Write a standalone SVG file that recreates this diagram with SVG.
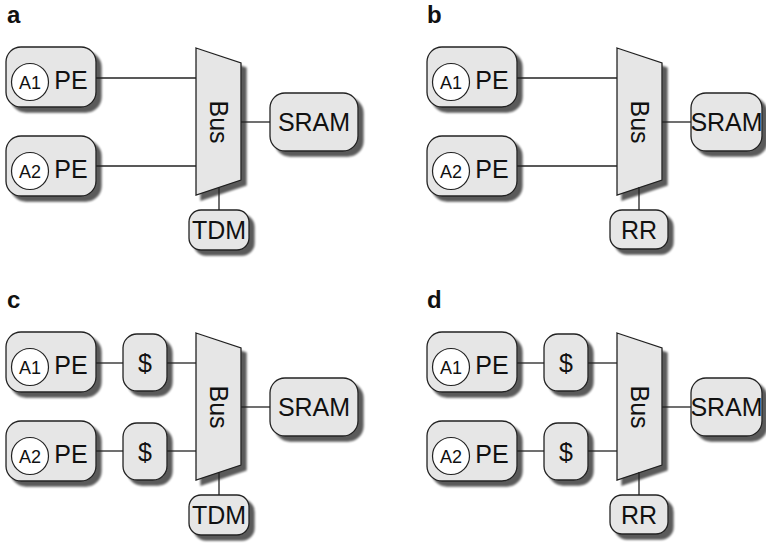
<svg xmlns="http://www.w3.org/2000/svg" width="766" height="545" viewBox="0 0 766 545">
<style>
.box{fill:#e6e6e6;stroke:#222;stroke-width:1.3}
.sh{filter:url(#shadow)}
.cir{fill:#fff;stroke:#222;stroke-width:1.2}
.t{font-family:"Liberation Sans",Arial,sans-serif;font-size:25px;fill:#111;text-anchor:middle}
.s{font-family:"Liberation Sans",Arial,sans-serif;font-size:18px;fill:#111;text-anchor:middle}
.lbl{font-family:"Liberation Sans",Arial,sans-serif;font-size:24px;font-weight:bold;fill:#111}
.c{stroke:#222;stroke-width:1.3;fill:none}
</style>
<defs>
<filter id="shadow" x="-20%" y="-20%" width="150%" height="150%">
<feGaussianBlur in="SourceAlpha" stdDeviation="0.8"/>
<feOffset dx="5" dy="5" result="o"/>
<feComponentTransfer><feFuncA type="linear" slope="0.65"/></feComponentTransfer>
<feMerge><feMergeNode/><feMergeNode in="SourceGraphic"/></feMerge>
</filter>
</defs>
<rect width="766" height="545" fill="#fff"/>

<!-- Panel a -->
<g id="panel-a">
<text class="lbl" x="7" y="23">a</text>
<g id="a-pe1"><rect class="box sh" x="6" y="47" width="90" height="60" rx="15"/><circle class="cir" cx="30" cy="82" r="18.5"/><text class="s" x="30" y="88.5">A1</text><text class="t" x="71" y="89">PE</text></g>
<g id="a-pe2"><rect class="box sh" x="6" y="136" width="90" height="60" rx="15"/><circle class="cir" cx="30" cy="171" r="18.5"/><text class="s" x="30" y="177.5">A2</text><text class="t" x="71" y="178">PE</text></g>
<g id="a-bus"><polygon class="box sh" points="196,48 241,63 241,180 196,195"/><text class="t" transform="translate(210,122) rotate(90)">Bus</text></g>
<g id="a-sram"><rect class="box sh" x="270" y="93" width="88" height="58" rx="15"/><text class="t" x="314" y="131">SRAM</text></g>
<g id="a-tdm"><rect class="box sh" x="189" y="210" width="60" height="40" rx="12"/><text class="t" x="219" y="238.5">TDM</text></g>
<g id="a-connectors">
<line class="c" x1="96" y1="78" x2="196" y2="78"/>
<line class="c" x1="96" y1="166" x2="196" y2="166"/>
<line class="c" x1="241" y1="122" x2="270" y2="122"/>
<line class="c" x1="219" y1="187" x2="219" y2="210"/>
</g>
</g>

<!-- Panel b -->
<g id="panel-b">
<text class="lbl" x="427" y="23">b</text>
<g id="b-pe1"><rect class="box sh" x="427" y="47" width="90" height="60" rx="15"/><circle class="cir" cx="451" cy="82" r="18.5"/><text class="s" x="451" y="88.5">A1</text><text class="t" x="492" y="89">PE</text></g>
<g id="b-pe2"><rect class="box sh" x="427" y="136" width="90" height="60" rx="15"/><circle class="cir" cx="451" cy="171" r="18.5"/><text class="s" x="451" y="177.5">A2</text><text class="t" x="492" y="178">PE</text></g>
<g id="b-bus"><polygon class="box sh" points="617,48 662,63 662,180 617,195"/><text class="t" transform="translate(631,122) rotate(90)">Bus</text></g>
<g id="b-sram"><rect class="box sh" x="691" y="93" width="71" height="58" rx="15"/><text class="t" x="726.5" y="131">SRAM</text></g>
<g id="b-rr"><rect class="box sh" x="610" y="210" width="58" height="39" rx="12"/><text class="t" x="639" y="238.5">RR</text></g>
<g id="b-connectors">
<line class="c" x1="517" y1="78" x2="617" y2="78"/>
<line class="c" x1="517" y1="166" x2="617" y2="166"/>
<line class="c" x1="662" y1="122" x2="691" y2="122"/>
<line class="c" x1="639" y1="187" x2="639" y2="210"/>
</g>
</g>

<!-- Panel c -->
<g id="panel-c">
<text class="lbl" x="7" y="308">c</text>
<g id="c-pe1"><rect class="box sh" x="6" y="332" width="90" height="60" rx="15"/><circle class="cir" cx="30" cy="367" r="18.5"/><text class="s" x="30" y="373.5">A1</text><text class="t" x="71" y="374">PE</text></g>
<g id="c-pe2"><rect class="box sh" x="6" y="421" width="90" height="60" rx="15"/><circle class="cir" cx="30" cy="456" r="18.5"/><text class="s" x="30" y="462.5">A2</text><text class="t" x="71" y="463">PE</text></g>
<g id="c-cache1"><rect class="box sh" x="123" y="334" width="44" height="57" rx="14"/><text class="t" x="145" y="372">$</text></g>
<g id="c-cache2"><rect class="box sh" x="123" y="423" width="44" height="57" rx="14"/><text class="t" x="145" y="461">$</text></g>
<g id="c-bus"><polygon class="box sh" points="196,333 241,348 241,465 196,480"/><text class="t" transform="translate(210,407) rotate(90)">Bus</text></g>
<g id="c-sram"><rect class="box sh" x="270" y="378" width="88" height="58" rx="15"/><text class="t" x="314" y="416">SRAM</text></g>
<g id="c-tdm"><rect class="box sh" x="189" y="495" width="60" height="40" rx="12"/><text class="t" x="219" y="523.5">TDM</text></g>
<g id="c-connectors">
<line class="c" x1="96" y1="363" x2="123" y2="363"/>
<line class="c" x1="167" y1="363" x2="196" y2="363"/>
<line class="c" x1="96" y1="451" x2="123" y2="451"/>
<line class="c" x1="167" y1="451" x2="196" y2="451"/>
<line class="c" x1="241" y1="407" x2="270" y2="407"/>
<line class="c" x1="219" y1="472" x2="219" y2="495"/>
</g>
</g>

<!-- Panel d -->
<g id="panel-d">
<text class="lbl" x="427" y="308">d</text>
<g id="d-pe1"><rect class="box sh" x="427" y="332" width="90" height="60" rx="15"/><circle class="cir" cx="451" cy="367" r="18.5"/><text class="s" x="451" y="373.5">A1</text><text class="t" x="492" y="374">PE</text></g>
<g id="d-pe2"><rect class="box sh" x="427" y="421" width="90" height="60" rx="15"/><circle class="cir" cx="451" cy="456" r="18.5"/><text class="s" x="451" y="462.5">A2</text><text class="t" x="492" y="463">PE</text></g>
<g id="d-cache1"><rect class="box sh" x="544" y="334" width="44" height="57" rx="14"/><text class="t" x="566" y="372">$</text></g>
<g id="d-cache2"><rect class="box sh" x="544" y="423" width="44" height="57" rx="14"/><text class="t" x="566" y="461">$</text></g>
<g id="d-bus"><polygon class="box sh" points="617,333 662,348 662,465 617,480"/><text class="t" transform="translate(631,407) rotate(90)">Bus</text></g>
<g id="d-sram"><rect class="box sh" x="691" y="378" width="71" height="58" rx="15"/><text class="t" x="726.5" y="416">SRAM</text></g>
<g id="d-rr"><rect class="box sh" x="610" y="495" width="58" height="39" rx="12"/><text class="t" x="639" y="523.5">RR</text></g>
<g id="d-connectors">
<line class="c" x1="517" y1="363" x2="544" y2="363"/>
<line class="c" x1="588" y1="363" x2="617" y2="363"/>
<line class="c" x1="517" y1="451" x2="544" y2="451"/>
<line class="c" x1="588" y1="451" x2="617" y2="451"/>
<line class="c" x1="662" y1="407" x2="691" y2="407"/>
<line class="c" x1="639" y1="472" x2="639" y2="495"/>
</g>
</g>
</svg>
